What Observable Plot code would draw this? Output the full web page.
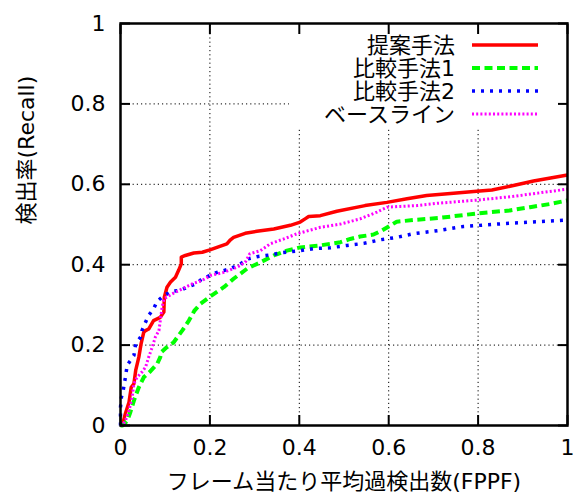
<!DOCTYPE html>
<html><head><meta charset="utf-8">
<script src="https://cdn.jsdelivr.net/npm/d3@7"></script>
<script src="https://cdn.jsdelivr.net/npm/@observablehq/plot@0.6"></script>
<style>body{margin:0;background:#fff}</style>
</head><body><div id="chart"></div>
<script>
// ---- data ----
const seriesNames = ["提案手法", "比較手法1", "比較手法2", "ベースライン"];
const xTicks = [0, 0.2, 0.4, 0.6, 0.8, 1];
const xTickLabels = ["0", "0.2", "0.4", "0.6", "0.8", "1"];
const yTicks = [0, 0.2, 0.4, 0.6, 0.8, 1];
const yTickLabels = ["0", "0.2", "0.4", "0.6", "0.8", "1"];
const xTitle = "フレーム当たり平均過検出数(FPPF)";
const yTitle = "検出率(Recall)";

const proposed = [[0,0],[0.005,0.004],[0.011,0.03],[0.019,0.058],[0.024,0.095],[0.03,0.104],[0.034,0.137],[0.041,0.17],[0.046,0.203],[0.052,0.232],[0.056,0.236],[0.063,0.24],[0.074,0.261],[0.089,0.269],[0.097,0.282],[0.098,0.319],[0.104,0.344],[0.112,0.357],[0.123,0.369],[0.13,0.386],[0.136,0.402],[0.136,0.419],[0.145,0.423],[0.164,0.429],[0.183,0.431],[0.2,0.437],[0.238,0.452],[0.246,0.462],[0.253,0.468],[0.279,0.478],[0.305,0.483],[0.343,0.489],[0.38,0.498],[0.402,0.506],[0.413,0.514],[0.421,0.52],[0.447,0.522],[0.484,0.533],[0.547,0.547],[0.596,0.555],[0.641,0.564],[0.685,0.572],[0.745,0.578],[0.797,0.583],[0.831,0.586],[0.879,0.597],[0.924,0.608],[1,0.623]];
const method1 = [[0,0],[0.005,0],[0.015,0.012],[0.022,0.033],[0.03,0.062],[0.041,0.095],[0.052,0.12],[0.067,0.135],[0.082,0.153],[0.089,0.17],[0.091,0.182],[0.104,0.195],[0.119,0.207],[0.13,0.224],[0.138,0.236],[0.153,0.261],[0.165,0.285],[0.179,0.303],[0.201,0.321],[0.231,0.344],[0.253,0.365],[0.283,0.39],[0.313,0.406],[0.343,0.423],[0.372,0.435],[0.402,0.443],[0.447,0.448],[0.492,0.456],[0.514,0.464],[0.536,0.47],[0.566,0.475],[0.585,0.485],[0.6,0.495],[0.618,0.507],[0.663,0.512],[0.711,0.516],[0.801,0.528],[0.871,0.535],[0.916,0.543],[0.961,0.551],[1,0.56]];
const method2 = [[0,0],[0,0.045],[0.002,0.07],[0.006,0.087],[0.011,0.12],[0.015,0.15],[0.03,0.174],[0.034,0.203],[0.045,0.22],[0.048,0.236],[0.056,0.257],[0.063,0.274],[0.074,0.29],[0.082,0.309],[0.097,0.323],[0.115,0.334],[0.134,0.336],[0.149,0.344],[0.168,0.352],[0.183,0.365],[0.216,0.381],[0.246,0.39],[0.268,0.402],[0.287,0.415],[0.305,0.42],[0.339,0.425],[0.361,0.43],[0.395,0.434],[0.432,0.44],[0.469,0.442],[0.507,0.448],[0.544,0.453],[0.581,0.462],[0.618,0.468],[0.655,0.477],[0.711,0.485],[0.767,0.495],[0.842,0.501],[0.916,0.506],[1,0.511]];
const baseline = [[0,0],[0.004,0],[0.011,0.012],[0.019,0.037],[0.026,0.07],[0.03,0.104],[0.037,0.12],[0.048,0.133],[0.056,0.145],[0.063,0.17],[0.071,0.195],[0.078,0.22],[0.086,0.236],[0.089,0.261],[0.093,0.294],[0.097,0.315],[0.115,0.327],[0.138,0.34],[0.16,0.352],[0.183,0.361],[0.201,0.373],[0.231,0.381],[0.261,0.394],[0.279,0.406],[0.289,0.427],[0.313,0.435],[0.335,0.452],[0.365,0.464],[0.395,0.477],[0.421,0.485],[0.447,0.493],[0.492,0.501],[0.536,0.514],[0.574,0.531],[0.596,0.543],[0.626,0.545],[0.663,0.547],[0.711,0.553],[0.801,0.561],[0.879,0.57],[0.939,0.579],[1,0.588]];
const seriesData = [proposed, method1, method2, baseline];

// ---- styles ----
const colors = ["#ff0000", "#00ff00", "#0000ff", "#ff00ff"];
const widths = [3.5, 4, 3.5, 3];
const dashes = [null, "8,4.5", "3,6", "2,2.2"];
const fontFamily = '"DejaVu Sans", "Noto Sans CJK JP", sans-serif';
const legendBox = {x1: 0.378, y1: 0.741};   // area kept free of grid (data units)

const gridX = xTicks.filter(d => d > 0 && d < 1);
const gridY = yTicks.filter(d => d > 0 && d < 1);

const plot = Plot.plot({
  width: 573, height: 495,
  marginLeft: 120, marginRight: 6, marginTop: 23, marginBottom: 70,
  style: {fontFamily, fontSize: "22px", color: "black", background: "white"},
  x: {domain: [0, 1]},
  y: {domain: [0, 1]},
  marks: [
    Plot.ruleX(gridX, {x: d => d, y1: 0, y2: d => d > legendBox.x1 ? legendBox.y1 : 1, stroke: "black", strokeWidth: 1, strokeDasharray: "1.2,3"}),
    Plot.ruleY(gridY, {y: d => d, x1: 0, x2: d => d > legendBox.y1 ? legendBox.x1 : 1, stroke: "black", strokeWidth: 1, strokeDasharray: "1.2,3"}),
    ...seriesData.map((pts, i) => Plot.line(pts, {
      x: d => d[0], y: d => d[1], stroke: colors[i], strokeWidth: widths[i],
      strokeDasharray: dashes[i], strokeLinecap: "butt", strokeLinejoin: "round"
    })),
    Plot.frame({stroke: "black", strokeWidth: 2.5}),
    Plot.axisX(xTicks, {anchor: "bottom", tickSize: -10, tickPadding: 24, strokeWidth: 2,
      tickFormat: d => xTickLabels[xTicks.indexOf(d)], label: null, fontSize: 22}),
    Plot.axisX(xTicks, {anchor: "top", tickSize: -10, strokeWidth: 2, tickFormat: () => "", label: null}),
    Plot.axisY(yTicks, {anchor: "left", tickSize: -10, tickPadding: 25, strokeWidth: 2,
      tickFormat: d => yTickLabels[yTicks.indexOf(d)], label: null, fontSize: 22}),
    Plot.axisY(yTicks, {anchor: "right", tickSize: -10, strokeWidth: 2, tickFormat: () => "", label: null}),
    Plot.text([xTitle], {frameAnchor: "bottom", dy: 56, lineAnchor: "middle", fontSize: 22}),
    Plot.text([yTitle], {frameAnchor: "left", dx: -94, rotate: -90, lineAnchor: "middle", fontSize: 22})
  ]
});

// legend (built from series names & styles)
const svg = d3.select(plot);
const lg = svg.append("g").attr("font-family", fontFamily).attr("font-size", 22);
seriesNames.forEach((name, i) => {
  const yy = 45 + 23 * i;
  lg.append("text").attr("x", 455).attr("y", yy).attr("text-anchor", "end")
    .attr("dominant-baseline", "central").attr("fill", "black").text(name);
  lg.append("line").attr("x1", 472).attr("x2", 538).attr("y1", yy).attr("y2", yy)
    .attr("stroke", colors[i]).attr("stroke-width", widths[i])
    .attr("stroke-dasharray", dashes[i]);
});

document.getElementById("chart").appendChild(plot);
</script>
</body></html>
